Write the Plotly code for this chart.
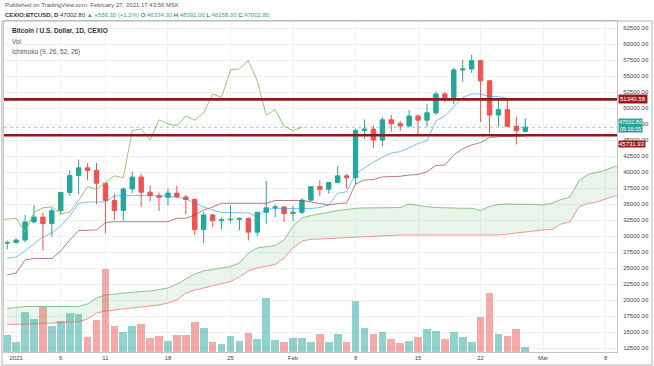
import pandas as pd
import plotly.graph_objects as go

# ---------------- data ----------------
start_date = "2020-12-31"
opens = [28870, 28980, 29380, 32200, 32950, 31950, 33950, 36800, 39450, 40650,
         40250, 38250, 35550, 34000, 37350, 39200, 36850, 36300, 36050, 36700,
         36100, 35700, 31000, 33300, 32400, 32550, 32600, 32750, 30600, 33700,
         34400, 34550, 33500, 33700, 35600, 37700, 37300, 38350, 39400, 39100,
         46500, 46700, 45000, 48150, 47550, 47200, 48750, 48100, 49250, 52200,
         51650, 55950, 56100, 57400, 54250, 48900, 49750, 47150, 46334.3]
highs = [29300, 29600, 33300, 34800, 33600, 34400, 36900, 40300, 41950, 41350,
         41400, 38300, 36600, 37600, 40000, 39700, 37900, 36800, 37400, 37850,
         36400, 35900, 33800, 33500, 32900, 34800, 32900, 32900, 33800, 38600,
         34900, 34600, 34700, 35900, 37800, 38700, 38400, 40900, 39700, 46800,
         48200, 47300, 48600, 48900, 48000, 49700, 49000, 50600, 52600, 52500,
         56300, 57500, 58300, 57500, 54400, 51300, 51600, 48600, 48391.0]
lows = [27900, 28800, 29000, 32000, 27700, 29900, 33300, 36300, 36500, 38700,
        35000, 30400, 32500, 32400, 36700, 34500, 35400, 33900, 34800, 35900,
        33400, 30100, 28900, 31400, 31000, 32100, 30900, 29300, 30000, 31900,
        32900, 32200, 32300, 33400, 35400, 36200, 36600, 38200, 37400, 38100,
        45200, 43800, 44000, 46300, 46400, 47000, 45900, 47100, 48900, 50900,
        50600, 54100, 55500, 47800, 46000, 47100, 47000, 44300, 46158.3]
closes = [28980, 29380, 32200, 32950, 31950, 33950, 36800, 39450, 40650, 40250,
          38250, 35550, 34000, 37350, 39200, 36850, 36300, 36050, 36700, 36100,
          35700, 31000, 33300, 32400, 32550, 32600, 32750, 30600, 33700, 34400,
          34550, 33500, 33700, 35600, 37700, 37300, 38350, 39400, 39100, 46500,
          46700, 45000, 48150, 47550, 47200, 48750, 48100, 49250, 52200, 51650,
          55950, 56100, 57400, 54250, 48900, 49750, 47150, 46446.5, 47002.8]
volume = [1700, 970, 4030, 3300, 4530, 2630, 3100, 3870, 3770, 1530,
          3170, 8270, 2630, 1970, 2630, 2830, 1370, 1600, 1100, 1730,
          1730, 3030, 2370, 1030, 830, 1600, 1130, 1930, 1300, 5370,
          1200, 1030, 1370, 1370, 1030, 1770, 1030, 1770, 1030, 5070,
          2430, 1830, 2000, 1300, 870, 1070, 1470, 2330, 2100, 1300,
          2000, 1530, 1030, 3470, 5930, 1800, 1600, 2270, 530]

# Ichimoku (9, 26, 52, 26) values
tenkan = [26480, 26720, 27660, 28750, 29840, 30470, 31560, 33130, 35080, 35310,
          35310, 35310, 36250, 36330, 36330, 36330, 36330, 36330, 36250, 36090,
          35780, 35160, 34530, 34060, 33670, 33670, 33670, 33600, 33000, 34140,
          34300, 34300, 34300, 34300, 34300, 34450, 34840, 36670, 36920, 39700,
          40700, 41560, 42270, 42970, 43170, 43830, 44450, 44900, 47970, 48750,
          50230, 51640, 52190, 52190, 51800, 51770, 51520, 51360, 51360]
kijun = [23910, 24220, 26250, 26480, 26480, 26480, 27660, 29380, 30860, 30940,
         30940, 32110, 32230, 32230, 32230, 32230, 32230, 32230, 32230, 32770,
         32770, 33280, 34060, 34530, 35110, 35110, 35110, 35110, 35110, 35110,
         35550, 35550, 35550, 35550, 35310, 35080, 34840, 35080, 35160, 38130,
         38750, 38830, 39220, 39300, 39330, 39530, 39610, 40050, 41020, 41090,
         42660, 43630, 44220, 44610, 45390, 45520, 45580, 45630, 45630]
span_a = [18670, 18830, 18980, 18980, 18980, 18980, 18980, 18980, 18980, 19380,
          20310, 20780, 20940, 21090, 21250, 21330, 21410, 21640, 21880, 22500,
          23280, 24060, 24530, 24770, 24950, 25230, 25780, 27340, 28130, 28360,
          28520, 29380, 31560, 32810, 33200, 33440, 33750, 33980, 34140, 34330,
          34380, 34380, 34420, 34450, 34450, 35000, 34770, 34580, 34450, 34380,
          34380, 34330, 34330, 33980, 34610, 34920, 35000, 35000, 35000, 34920,
          34840, 35160, 35700, 36090, 38590, 39610, 39920, 40310, 40860, 41050]
span_b = [16170, 16170, 16250, 16250, 16330, 16410, 16480, 16560, 16610, 17030,
          17970, 18280, 18440, 18590, 18750, 18910, 19060, 19220, 19530, 20000,
          21090, 21560, 21880, 22190, 22580, 22890, 23590, 24530, 25000, 25230,
          25550, 26560, 28130, 29220, 29480, 29530, 29610, 29690, 29770, 29840,
          29920, 30000, 30080, 30160, 30160, 30160, 30160, 30160, 30160, 30160,
          30160, 30160, 30160, 30160, 30160, 30160, 30310, 30470, 30700, 30860,
          30940, 31020, 31880, 32190, 34530, 35080, 35310, 35780, 36250, 36330]
chikou_shift_days = 25

levels = [51340.58, 45731.93]
last_price = 47002.80
countdown = "09:16:05"

x_tick_dates = ["2021-01-01", "2021-01-06", "2021-01-11", "2021-01-18", "2021-01-25",
                "2021-02-01", "2021-02-08", "2021-02-15", "2021-02-22", "2021-03-01",
                "2021-03-08"]
x_tick_text = ["2021", "6", "11", "18", "25", "Feb", "8", "15", "22", "Mar", "8"]
y_ticks = list(range(12500, 62501, 2500))

# ---------------- figure ----------------
UP = "#26a69a"
DOWN = "#ef5350"
FONT = "Liberation Sans"

dates = pd.date_range(start_date, periods=len(closes), freq="D")
cloud_dates = pd.date_range(start_date, periods=len(span_a), freq="D")
chikou_dates = dates - pd.Timedelta(days=chikou_shift_days)

fig = go.Figure()

vol_colors = ["rgba(38,166,154,0.5)" if c >= o else "rgba(239,83,80,0.5)"
              for o, c in zip(opens, closes)]
fig.add_trace(go.Bar(x=dates, y=volume, marker=dict(color=vol_colors, line_width=0),
                     width=0.86 * 86400000, yaxis="y", hoverinfo="skip"))

fig.add_trace(go.Scatter(x=cloud_dates, y=span_b, mode="lines",
                         line=dict(color="rgba(239,83,80,0.6)", width=1), yaxis="y2"))
fig.add_trace(go.Scatter(x=cloud_dates, y=span_a, mode="lines",
                         line=dict(color="rgba(67,160,71,0.6)", width=1), yaxis="y2",
                         fill="tonexty", fillcolor="rgba(76,175,80,0.12)"))
fig.add_trace(go.Scatter(x=chikou_dates, y=closes, mode="lines",
                         line=dict(color="rgba(130,190,90,0.85)", width=1), yaxis="y2"))
fig.add_trace(go.Scatter(x=dates, y=kijun, mode="lines",
                         line=dict(color="rgba(150,50,55,0.65)", width=1), yaxis="y2"))
fig.add_trace(go.Scatter(x=dates, y=tenkan, mode="lines",
                         line=dict(color="rgba(33,150,243,0.6)", width=1), yaxis="y2"))

fig.add_trace(go.Candlestick(x=dates, open=opens, high=highs, low=lows, close=closes,
                             yaxis="y2", whiskerwidth=0,
                             increasing=dict(line=dict(color=UP, width=1), fillcolor=UP),
                             decreasing=dict(line=dict(color=DOWN, width=1), fillcolor=DOWN)))

shapes = []
for lv in levels:
    shapes.append(dict(type="line", xref="paper", x0=0, x1=1, yref="y2", y0=lv, y1=lv,
                       line=dict(color="#8e1a1a", width=2.6), layer="above"))
shapes.append(dict(type="line", xref="paper", x0=0, x1=1, yref="y2", y0=last_price,
                   y1=last_price, line=dict(color="rgba(38,166,154,0.5)", width=1, dash="dot")))
# outer frame of the chart widget
shapes.append(dict(type="rect", xref="paper", yref="paper", x0=-0.0033, x1=1.0571,
                   y0=-0.0393, y1=1.0, line=dict(color="#b5b5b5", width=1)))

annotations = []
annotations.append(dict(xref="paper", yref="y2", x=1.0, y=levels[0], xanchor="left",
                        yanchor="middle", text=f"{levels[0]:.2f}", showarrow=False,
                        bgcolor="#9b1c1c", font=dict(color="white", size=6, family=FONT),
                        borderpad=1, xshift=1))
annotations.append(dict(xref="paper", yref="y2", x=1.0, y=last_price, xanchor="left",
                        yanchor="middle", text=f"{last_price:.2f}<br>{countdown}",
                        showarrow=False, bgcolor=UP,
                        font=dict(color="white", size=5.5, family=FONT),
                        borderpad=0, xshift=1, yshift=2))
annotations.append(dict(xref="paper", yref="y2", x=1.0, y=levels[1], xanchor="left",
                        yanchor="middle", text=f"{levels[1]:.2f}", showarrow=False,
                        bgcolor="#9b1c1c", font=dict(color="white", size=6, family=FONT),
                        borderpad=0, xshift=1, yshift=-9))

annotations.append(dict(xref="paper", yref="paper", x=-0.002, y=1.048, xanchor="left",
                        yanchor="middle", showarrow=False,
                        text="Published on TradingView.com, February 27, 2021 17:43:56 MSK",
                        font=dict(size=6, color="#555555", family=FONT)))
g = "<span style='color:#26a69a'>"
annotations.append(dict(xref="paper", yref="paper", x=-0.002, y=1.018, xanchor="left",
                        yanchor="middle", showarrow=False,
                        text=("<b>CEXIO:BTCUSD, D</b> 47002.80 " + g + "\u25b2 +556.30 (+1.2%)</span> "
                              "O:" + g + "46334.30</span> H:" + g + "48391.00</span> "
                              "L:" + g + "46158.30</span> C:" + g + "47002.80</span>"),
                        font=dict(size=6, color="#333333", family=FONT)))
annotations.append(dict(xref="paper", yref="paper", x=0.01, y=0.970, xanchor="left",
                        yanchor="middle", showarrow=False,
                        text="<b>Bitcoin / U.S. Dollar, 1D, CEXIO</b>",
                        font=dict(size=6.5, color="#333333", family=FONT)))
annotations.append(dict(xref="paper", yref="paper", x=0.01, y=0.937, xanchor="left",
                        yanchor="middle", showarrow=False, text="Vol",
                        font=dict(size=6.5, color="#555555", family=FONT)))
annotations.append(dict(xref="paper", yref="paper", x=0.01, y=0.906, xanchor="left",
                        yanchor="middle", showarrow=False, text="Ichimoku (9, 26, 52, 26)",
                        font=dict(size=6.5, color="#555555", family=FONT)))

vol_top = max(volume) * 331 / 82.7

fig.update_layout(
    width=654, height=366,
    margin=dict(l=4, r=37, t=21, b=14),
    paper_bgcolor="white", plot_bgcolor="white",
    showlegend=False,
    font=dict(family=FONT, size=6, color="#444444"),
    bargap=0,
    xaxis=dict(type="date", range=["2020-12-30 15:25", "2021-03-09 06:30"],
               tickvals=x_tick_dates, ticktext=x_tick_text,
               showgrid=True, gridcolor="#f1f1f1", gridwidth=1,
               showline=True, linecolor="#c4c4c4", mirror=True,
               ticks="", tickfont=dict(size=6, color="#444444"),
               rangeslider=dict(visible=False), zeroline=False),
    yaxis=dict(range=[0, vol_top], visible=False, showgrid=False, fixedrange=True),
    yaxis2=dict(overlaying="y", side="right", range=[11875, 63594],
                tickvals=y_ticks, tickformat=".2f",
                showgrid=True, gridcolor="#f1f1f1", gridwidth=1,
                showline=True, linecolor="#c4c4c4", mirror=True,
                ticks="", ticklabelstandoff=4,
                tickfont=dict(size=6, color="#444444"), zeroline=False),
    shapes=shapes,
    annotations=annotations,
)

fig.write_html("out.html", config={"displayModeBar": False},
               post_script="document.body.style.margin='0';document.body.style.padding='0';")
